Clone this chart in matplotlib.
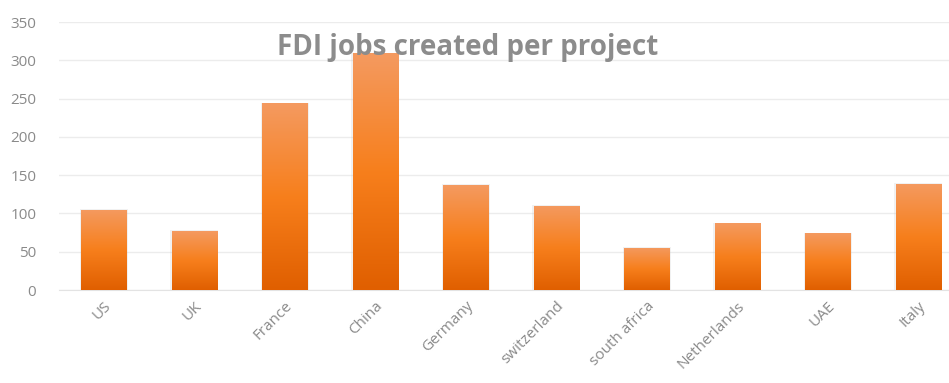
import matplotlib
matplotlib.use("Agg")
import matplotlib.pyplot as plt
import numpy as np
from matplotlib.colors import LinearSegmentedColormap

countries = ["US", "UK", "France", "China", "Germany", "switzerland",
             "south africa", "Netherlands", "UAE", "Italy"]
jobs = [105, 77, 244, 309, 137, 110, 55, 87, 74, 139]
y_ticks = [0, 50, 100, 150, 200, 250, 300, 350]

fig = plt.figure(figsize=(9.49, 3.83), dpi=100)
ax = fig.add_axes([58.5 / 949, 93 / 383, 905 / 949, 268 / 383])

bars = ax.bar(range(len(countries)), jobs, width=0.5, color="none",
              edgecolor="none", zorder=3)

# vertical gradient for each bar (light top -> orange -> dark bottom)
grad = LinearSegmentedColormap.from_list(
    "og", ["#E05F00", "#F77F1C", "#F49A60"])
g = np.linspace(0, 1, 256).reshape(-1, 1)
for b in bars:
    x0, y0 = b.get_x(), b.get_y()
    w, h = b.get_width(), b.get_height()
    # soft shadow
    ax.bar(x0 + w / 2, h + 0.8, width=w + 0.025, bottom=y0,
           color="#c8c8c8", alpha=0.25, zorder=2)
    im = ax.imshow(g, cmap=grad, origin="lower", aspect="auto",
                   extent=(x0, x0 + w, y0, y0 + h), zorder=3)
    im.set_clip_path(b)

ax.set_xlim(-0.5, len(countries) - 0.5)
ax.set_ylim(0, 350)
ax.set_yticks(y_ticks)
ax.set_xticks(range(len(countries)))
ax.set_xticklabels(countries, rotation=45, ha="right", rotation_mode="anchor",
                   fontsize=11, color="#8a8a8a", family="Open Sans")
ax.tick_params(axis="y", labelsize=11, labelcolor="#8a8a8a", length=0, pad=16)
ax.tick_params(axis="x", length=0, pad=6)
for lab in ax.get_yticklabels():
    lab.set_family("Open Sans")

ax.grid(axis="y", color="#ececec", linewidth=1, zorder=0)
ax.set_axisbelow(True)
for s in ["top", "right", "left"]:
    ax.spines[s].set_visible(False)
ax.spines["bottom"].set_color("#e3e3e3")

fig.text(468 / 949, 1 - 48 / 383, "FDI jobs created per project",
         ha="center", va="center", fontsize=20, fontweight="bold",
         color="#8c8c8c", family="Open Sans", zorder=5)

fig.savefig("out.png", dpi=100)
